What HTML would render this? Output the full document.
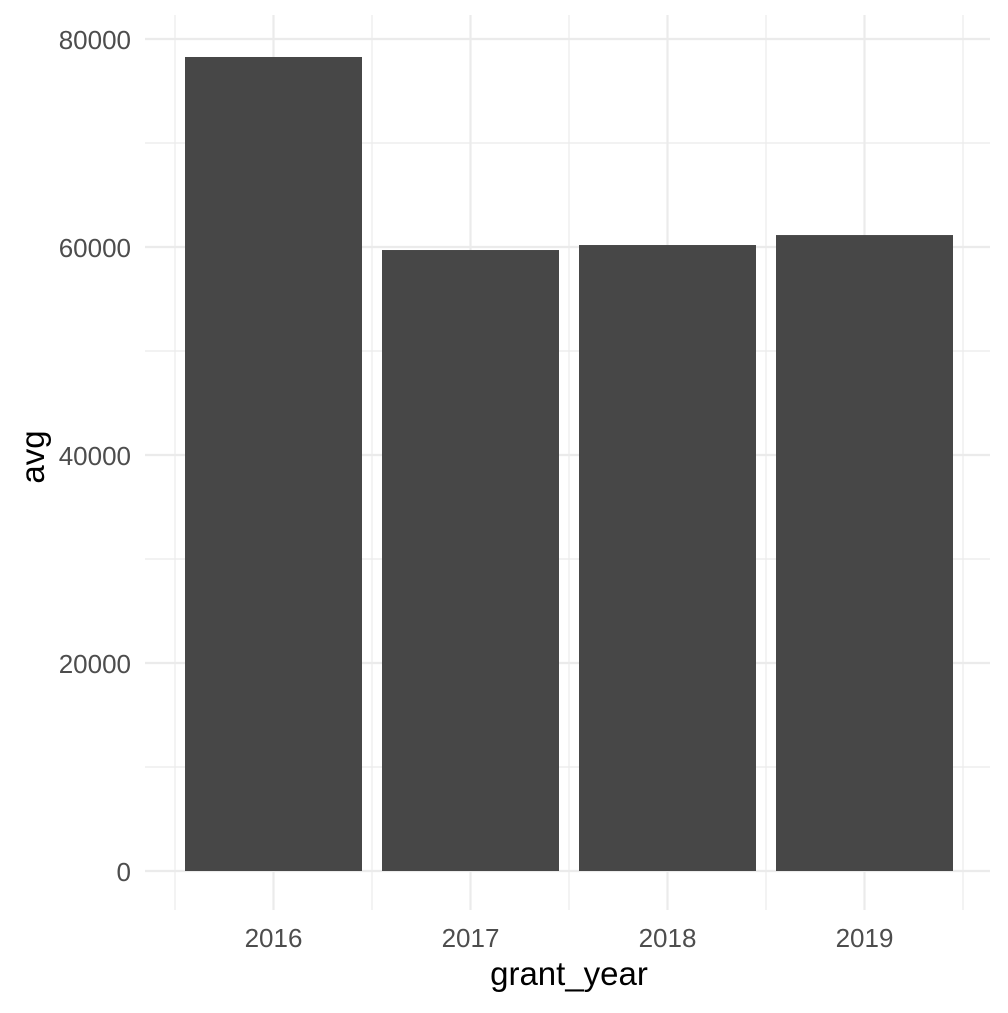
<!DOCTYPE html>
<html><head><meta charset="utf-8"><style>
body{margin:0;background:#fff}
svg text{font-family:"Liberation Sans",Arial,sans-serif}
</style></head><body>
<svg id="chart" width="1008" height="1008">
<g id="grid"></g><g id="bars"></g><g id="labels"></g>
<text x="569" y="985" font-size="33" text-anchor="middle" fill="#000">grant_year</text>
<text transform="translate(44,457) rotate(-90)" font-size="33" text-anchor="middle" fill="#000">avg</text>
</svg>
<script>
const categories = ["2016","2017","2018","2019"];
const avgValues = [78270, 59710, 60190, 61150];
const yTicks = [0,20000,40000,60000,80000];
const yMinor = [10000,30000,50000,70000];
const ns="http://www.w3.org/2000/svg";
const x0=175, step=197, barW=177;
const yScale=v=>871-v*832/80000;
const xCenter=i=>x0+step*(i+0.5);
const grid=document.getElementById('grid'),bars=document.getElementById('bars'),labels=document.getElementById('labels');
function line(x1,y1,x2,y2,w){const l=document.createElementNS(ns,'line');l.setAttribute('x1',x1);l.setAttribute('y1',y1);l.setAttribute('x2',x2);l.setAttribute('y2',y2);l.setAttribute('stroke','#ebebeb');l.setAttribute('stroke-width',w);grid.appendChild(l);return l;}
yMinor.forEach(v=>{const l=line(145,yScale(v),990,yScale(v),1.2);

});
for(let i=0;i<=categories.length;i++){const l=line(x0+step*i,15,x0+step*i,910,1.2);

}
yTicks.forEach(v=>{const l=line(145,yScale(v),990,yScale(v),2.2);


const t=document.createElementNS(ns,'text');t.setAttribute('x',131);t.setAttribute('y',yScale(v)+10);t.setAttribute('text-anchor','end');t.setAttribute('font-size','26');t.setAttribute('fill','#4d4d4d');t.textContent=v;


labels.appendChild(t);});
categories.forEach((c,i)=>{const l=line(xCenter(i),15,xCenter(i),910,2.2);


const r=document.createElementNS(ns,'rect');r.setAttribute('x',xCenter(i)-barW/2);r.setAttribute('y',yScale(avgValues[i]));r.setAttribute('width',barW);r.setAttribute('height',yScale(0)-yScale(avgValues[i]));r.setAttribute('fill','#474747');


bars.appendChild(r);
const t=document.createElementNS(ns,'text');t.setAttribute('x',xCenter(i));t.setAttribute('y',947);t.setAttribute('text-anchor','middle');t.setAttribute('font-size','26');t.setAttribute('fill','#4d4d4d');t.textContent=c;


labels.appendChild(t);});
</script>
</body></html>
